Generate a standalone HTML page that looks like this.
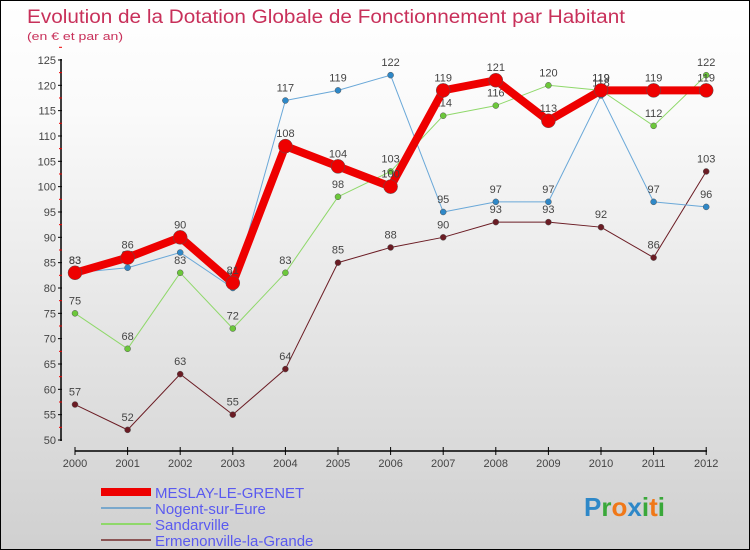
<!DOCTYPE html>
<html><head><meta charset="utf-8"><style>
body{margin:0}
#c{width:748px;height:548px;border:1px solid #000;background:linear-gradient(#fff,#fafafa 20%,#d0d0d0);position:relative;overflow:hidden;font-family:"Liberation Sans",sans-serif}
</style></head><body>
<div id="c">
<svg id="s" width="748" height="548"></svg>
</div>
<script>
const years=[2000,2001,2002,2003,2004,2005,2006,2007,2008,2009,2010,2011,2012];
const meslay=[83,86,90,81,108,104,100,119,121,113,119,119,119];
const nogent=[83,84,87,80,117,119,122,95,97,97,118,97,96];
const sandar=[75,68,83,72,83,98,103,114,116,120,119,112,122];
const ermen=[57,52,63,55,64,85,88,90,93,93,92,86,103];
const yTicks=[50,55,60,65,70,75,80,85,90,95,100,105,110,115,120,125];
const names=["MESLAY-LE-GRENET","Nogent-sur-Eure","Sandarville","Ermenonville-la-Grande"];
const NS="http://www.w3.org/2000/svg",s=document.getElementById('s');
const X=i=>74+i*52.6, Y=v=>439-(v-50)*5.067;
function el(t,a,p){const e=document.createElementNS(NS,t);for(const k in a)e.setAttribute(k,a[k]);(p||s).appendChild(e);return e;}
function tx(x,y,t,a){const e=el('text',Object.assign({x:x,y:y},a));e.textContent=t;return e;}
const tt=tx(26,22,"Evolution de la Dotation Globale de Fonctionnement par Habitant",{fill:"#c8305a","font-size":19,textLength:598,lengthAdjust:"spacingAndGlyphs"});


const st=tx(26,39,"(en € et par an)",{fill:"#c8305a","font-size":11,textLength:96,lengthAdjust:"spacingAndGlyphs"});


const ya=el('line',{x1:60,y1:58,x2:60,y2:440,stroke:"#000","stroke-width":1.5});


yTicks.forEach(v=>{el('line',{x1:57,y1:Y(v),x2:61,y2:Y(v),stroke:"#000"});
 el('line',{x1:58,y1:Y(v+2.5),x2:61,y2:Y(v+2.5),stroke:"#e00"});
 const t=tx(55,Y(v)+4,v,{"text-anchor":"end","font-size":11,fill:"#444"});
 
 });
const xa=el('line',{x1:74,y1:450,x2:706,y2:450,stroke:"#000","stroke-width":1.5});


years.forEach((y,i)=>{el('line',{x1:X(i),y1:446,x2:X(i),y2:454,stroke:"#000"});
 const t=tx(X(i),466,y,{"text-anchor":"middle","font-size":11,fill:"#444"});
 
 });
const series=[[ermen,"#6b1c24","#6b1c24",1,3],[sandar,"#8fd86a","#6cc83a",1,3],[nogent,"#6aa8d8","#2e88c8",1,3],[meslay,"#e00","#e00",8,7]];
series.forEach(([d,c,mc,w,r],si)=>{
 const pl=el('polyline',{points:d.map((v,i)=>X(i)+","+Y(v)).join(" "),fill:"none",stroke:c,"stroke-width":w,"stroke-linejoin":"round"});
 
 
 d.forEach((v,i)=>{const p=el('circle',{cx:X(i),cy:Y(v),r:r,fill:mc,stroke:"#555","stroke-width":0.5});
  
  
  const l=tx(X(i),Y(v)-9,v,{"text-anchor":"middle","font-size":11,fill:"#444"});
  
  });
});
const lc=["#e00","#7aa8cc","#8fd86a","#8b5555"],lw=[8,2,2,2];
names.forEach((n,i)=>{const y=491+i*16;
 el('line',{x1:100,y1:y,x2:150,y2:y,stroke:lc[i],"stroke-width":lw[i]});
 const t=tx(154,y+6,n,{"font-size":15,fill:"#5a5af0"});
 
 });
const lg=el('text',{x:583,y:515,"font-size":26,"font-weight":"bold"});


[["P","#2e88c8"],["r","#3aa83a"],["o","#f07818"],["x","#2e88c8"],["i","#3aa83a"],["t","#f07818"],["i","#3aa83a"]].forEach(([c,f])=>{const t=el('tspan',{fill:f},lg);t.textContent=c;});
</script>
</body></html>
